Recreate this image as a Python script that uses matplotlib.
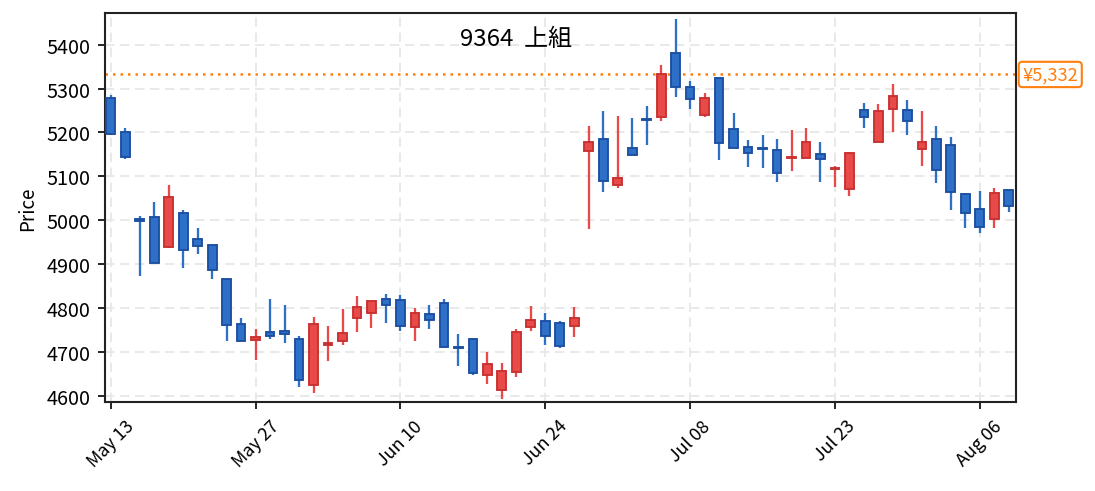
import matplotlib
matplotlib.use("Agg")
import matplotlib.pyplot as plt
import matplotlib.transforms as mtransforms
import numpy as np
import pandas as pd

plt.rcParams['font.family'] = ['Noto Sans CJK JP', 'DejaVu Sans']

# ---- data ----
title_text = "9364  上組"
ref_price = 5332
ref_label = "¥5,332"

opens = [5279, 5201, 5002, 5007, 4939, 5016, 4958, 4943, 4867, 4763,
         4727, 4746, 4747, 4730, 4624, 4715, 4724, 4777, 4788, 4820,
         4818, 4756, 4786, 4812, 4711, 4730, 4647, 4613, 4654, 4756,
         4771, 4767, 4760, 5158, 5186, 5080, 5165, 5230, 5234, 5381,
         5304, 5239, 5324, 5208, 5167, 5164, 5161, 5141, 5142, 5150,
         5117, 5070, 5250, 5179, 5254, 5250, 5163, 5184, 5171, 5059,
         5025, 5002, 5069]
highs = [5285, 5210, 5010, 5042, 5080, 5024, 4983, 4943, 4867, 4778,
         4752, 4820, 4806, 4736, 4779, 4758, 4797, 4827, 4817, 4833,
         4829, 4801, 4808, 4820, 4742, 4731, 4699, 4674, 4752, 4804,
         4789, 4771, 4802, 5214, 5249, 5237, 5233, 5261, 5353, 5459,
         5317, 5289, 5324, 5244, 5183, 5194, 5185, 5205, 5211, 5179,
         5124, 5156, 5267, 5265, 5311, 5274, 5249, 5215, 5189, 5062,
         5067, 5074, 5069]
lows = [5195, 5140, 4872, 4902, 4936, 4892, 4922, 4867, 4724, 4725,
        4682, 4729, 4720, 4620, 4607, 4680, 4716, 4746, 4755, 4766,
        4748, 4725, 4752, 4710, 4668, 4648, 4627, 4593, 4643, 4748,
        4716, 4709, 4734, 4980, 5065, 5073, 5148, 5172, 5225, 5281,
        5254, 5234, 5138, 5164, 5122, 5120, 5088, 5111, 5141, 5086,
        5075, 5055, 5211, 5178, 5200, 5193, 5123, 5084, 5023, 4982,
        4971, 4982, 5018]
closes = [5196, 5145, 4999, 4902, 5054, 4933, 4942, 4887, 4762, 4726,
          4735, 4737, 4742, 4636, 4764, 4721, 4743, 4802, 4816, 4808,
          4759, 4789, 4772, 4711, 4709, 4652, 4673, 4657, 4746, 4773,
          4736, 4714, 4777, 5179, 5089, 5097, 5149, 5228, 5332, 5303,
          5276, 5279, 5176, 5164, 5152, 5162, 5108, 5144, 5178, 5140,
          5120, 5152, 5236, 5248, 5283, 5227, 5178, 5115, 5065, 5017,
          4984, 5061, 5033]

# trading days (Tokyo), 2024-05-13 .. 2024-08-08, Marine Day excluded
dates = [d for d in pd.bdate_range("2024-05-13", "2024-08-08") if d != pd.Timestamp("2024-07-15")]
tick_step = 10
yticks = [4600, 4700, 4800, 4900, 5000, 5100, 5200, 5300, 5400]

# ---- style ----
up_face, up_edge = "#E84A4A", "#C93030"
dn_face, dn_edge = "#2E6FC7", "#1B4FA0"

fig = plt.figure(figsize=(7.3, 3.28), dpi=150)
ax = fig.add_axes([105/1095, 1-403/492, (1016-105)/1095, (403-14)/492])

o = np.array(opens, float); h = np.array(highs, float)
l = np.array(lows, float); c = np.array(closes, float)
x = np.arange(len(o))
up = c >= o
face = np.where(up, up_face, dn_face)
edge = np.where(up, up_edge, dn_edge)

ax.vlines(x, l, h, colors=face, linewidth=1.1, zorder=2)
body_bottom = np.minimum(o, c)
body_h = np.maximum(np.abs(c - o), 1.5)
ax.bar(x, body_h, bottom=body_bottom, width=0.6, color=face,
       edgecolor=edge, linewidth=0.9, zorder=3)

ax.axhline(ref_price, color="#FF7F0E", linestyle=(0, (1, 2)), linewidth=1.2, zorder=1.5)
trans = mtransforms.blended_transform_factory(ax.transAxes, ax.transData)
ax.text(1.007, ref_price, ref_label, transform=trans, ha="left", va="center",
        fontsize=8.8, color="#FF7F0E",
        bbox=dict(boxstyle="round,pad=0.2", fc="white", ec="#FF7F0E", lw=1.0))

ax.set_xlim(-0.4, 62.5)
ax.set_ylim(4586, 5472)
tpos = list(range(0, len(dates), tick_step))
ax.set_xticks(tpos)
ax.set_xticklabels([dates[i].strftime("%b %d") for i in tpos], rotation=45, fontsize=8.6)
ax.set_yticks(yticks)
ax.tick_params(axis="y", labelsize=9.5)
ax.set_ylabel("Price", fontsize=9)

ax.grid(True, color="#E8E8E8", linestyle=(0, (5, 3)), linewidth=0.9, zorder=0)
ax.set_axisbelow(True)
for s in ax.spines.values():
    s.set_linewidth(1.0)
    s.set_color("#222222")

fig.text(516/1095, 1-40/492, title_text, ha="center", va="center", fontsize=11.5)

fig.savefig("out.png", dpi=150)
